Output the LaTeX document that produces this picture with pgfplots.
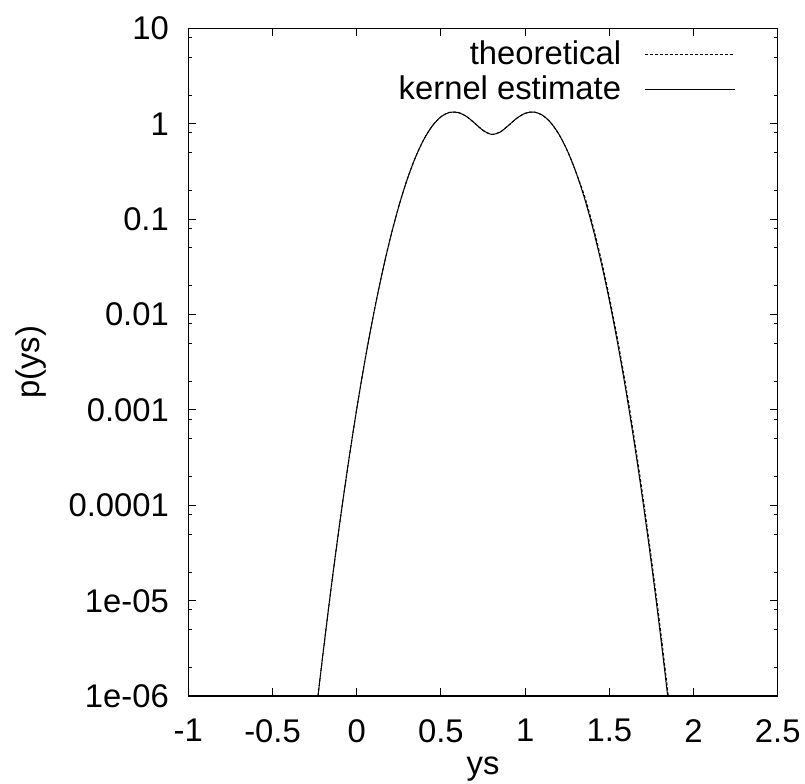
\documentclass[border=0pt]{standalone}
\usepackage{fontspec}
\setmainfont{Liberation Sans}
\usepackage{pgfplots}
\pgfplotsset{compat=1.18}

\begin{document}
\begin{tikzpicture}[font=\fontsize{16.4}{19}\selectfont]
\begin{axis}[
  scale only axis,
  width=294.7pt, height=333.9pt,
  xmin=-1, xmax=2.5,
  ymode=log, ymin=1e-6, ymax=10,
  xtick={-1,-0.5,0,0.5,1,1.5,2,2.5},
  xticklabels={-1,-0.5,0,0.5,1,1.5,2,2.5},
  ytick={1e-6,1e-5,1e-4,1e-3,1e-2,1e-1,1,10},
  yticklabels={1e-06,1e-05,0.0001,0.001,0.01,0.1,1,10},
  minor ytick={2e-6,5e-6,8e-6,2e-5,5e-5,8e-5,2e-4,5e-4,8e-4,2e-3,5e-3,8e-3,
               0.02,0.05,0.08,0.2,0.5,0.8,2,5,8},
  tick align=inside,
  major tick length=3.85pt, minor tick length=1.75pt,
  axis line style={line width=0.75pt},
  every tick/.style={black, line width=0.5pt},
  xticklabel style={yshift=-8pt},
  yticklabel style={xshift=-6.2pt},
  xlabel={ys}, ylabel={p(ys)},
  xlabel style={at={(axis description cs:0.5,-0.118)}, anchor=base},
  ylabel style={at={(axis description cs:-0.252,0.5)}, anchor=base},
  legend cell align=right,
  legend plot pos=right,
  legend image code/.code={\path[draw=none] (0pt,2.6pt) -- (0pt,0pt);
                           \draw[#1] (0pt,0pt) -- (45pt,0pt);},
  legend style={at={(rel axis cs:1,1)}, anchor=north east,
    xshift=-21pt, yshift=-6.2pt, draw=none, fill=none,
    inner sep=0pt, outer sep=0pt, column sep=11.8pt, row sep=4.3pt,
    nodes={inner sep=0pt, outer sep=0pt}},
]
% theoretical
\addplot[black, line width=0.5pt, dash pattern=on 1.5pt off 1pt, smooth] coordinates {
  (-0.25,4.9e-7) (-0.23,1.0e-6) (-0.20,2.81e-6) (-0.15,1.45e-5) (-0.10,6.67e-5)
  (-0.05,2.75e-4) (0.00,1.02e-3) (0.05,3.38e-3) (0.10,1.005e-2) (0.15,2.67e-2)
  (0.20,6.38e-2) (0.25,0.1365) (0.30,0.2616) (0.35,0.4494) (0.40,0.6917)
  (0.45,0.9543) (0.50,1.1808) (0.55,1.3117) (0.60,1.3131) (0.65,1.1958)
  (0.70,1.0158) (0.75,0.8518) (0.80,0.7739) (0.85,0.8138) (0.90,0.9556)
  (0.95,1.1393) (1.00,1.2854) (1.05,1.3270) (1.10,1.2372) (1.15,1.0367)
  (1.20,0.7789) (1.25,0.5249) (1.30,0.3169) (1.354,0.1715) (1.404,8.314e-2)
  (1.454,3.614e-2) (1.504,1.408e-2) (1.554,4.91e-3) (1.604,1.537e-3)
  (1.654,4.31e-4) (1.704,1.081e-4) (1.754,2.43e-5) (1.804,4.91e-6)
  (1.854,8.87e-7) (1.874,4.3e-7)
};
% kernel estimate
\addplot[black, line width=0.5pt, smooth] coordinates {
  (-0.25,4.9e-7) (-0.23,1.0e-6) (-0.20,2.81e-6) (-0.15,1.45e-5) (-0.10,6.67e-5)
  (-0.05,2.75e-4) (0.00,1.02e-3) (0.05,3.38e-3) (0.10,1.005e-2) (0.15,2.67e-2)
  (0.20,6.38e-2) (0.25,0.1365) (0.30,0.2616) (0.35,0.4494) (0.40,0.6917)
  (0.45,0.9543) (0.50,1.1808) (0.55,1.3117) (0.60,1.3131) (0.65,1.1958)
  (0.70,1.0158) (0.75,0.8518) (0.80,0.7739) (0.85,0.8138) (0.90,0.9556)
  (0.95,1.1393) (1.00,1.2854) (1.05,1.3270) (1.10,1.2372) (1.15,1.0367)
  (1.20,0.7789) (1.25,0.5249) (1.30,0.3169) (1.35,0.1715) (1.40,8.314e-2)
  (1.45,3.614e-2) (1.50,1.408e-2) (1.55,4.91e-3) (1.60,1.537e-3)
  (1.65,4.31e-4) (1.70,1.081e-4) (1.75,2.43e-5) (1.80,4.91e-6)
  (1.85,8.87e-7) (1.87,4.3e-7)
};
\legend{theoretical, kernel estimate}
\coordinate (bbl) at (rel axis cs:-0.3195,-0.1303);
\coordinate (btr) at (rel axis cs:1.0463,1.0424);
\end{axis}
\pgfresetboundingbox
\path[use as bounding box] (bbl) rectangle (btr);
\end{tikzpicture}
\end{document}
